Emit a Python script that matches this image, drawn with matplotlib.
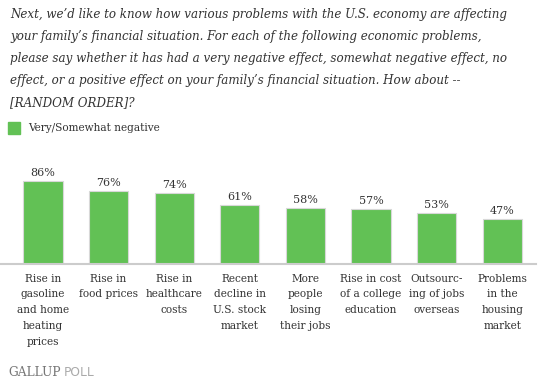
import matplotlib
matplotlib.use("Agg")
from matplotlib import pyplot as plt

# 数据
categories = ["Rise in\ngasoline\nand home\nheating\nprices",
              "Rise in\nfood prices",
              "Rise in\nhealthcare\ncosts",
              "Recent\ndecline in\nU.S. stock\nmarket",
              "More\npeople\nlosing\ntheir jobs",
              "Rise in cost\nof a college\neducation",
              "Outsourc-\ning of jobs\noverseas",
              "Problems\nin the\nhousing\nmarket"]
values = [86, 76, 74, 61, 58, 57, 53, 47]
series_name = "Very/Somewhat negative"

title = ("Next, we\u2019d like to know how various problems with the U.S. economy are affecting\n"
         "your family\u2019s financial situation. For each of the following economic problems,\n"
         "please say whether it has had a very negative effect, somewhat negative effect, no\n"
         "effect, or a positive effect on your family\u2019s financial situation. How about --\n"
         "[RANDOM ORDER]?")

green = "#62c155"
serif = "DejaVu Serif"

W, H = 542, 384
fig = plt.figure(figsize=(W / 100, H / 100), dpi=100)

# 标题
fig.text(10 / W, 1 - 8 / H, title, family=serif, style="italic", fontsize=8.6,
         color="#333333", va="top", ha="left", linespacing=1.9)

# 图例
fig.patches.append(plt.Rectangle((8 / W, 1 - 134 / H), 12 / W, 12 / H,
                                 transform=fig.transFigure, color=green))
fig.text(28 / W, 1 - 128 / H, series_name, family=serif, fontsize=7.6,
         color="#333333", va="center", ha="left")

# 柱状图
ax = fig.add_axes([0, (H - 264) / H, 536 / W, 96.5 / H])
x = range(len(values))
ax.bar(x, values, width=0.6, color=green, edgecolor="#d8d8d8", linewidth=0.8)
for i, v in enumerate(values):
    ax.text(i, v + 3, f"{v}%", ha="center", va="bottom", family=serif,
            fontsize=8, color="#333333")
ax.set_xlim(-43 / 65.6, (536 - 43) / 65.6)
ax.set_ylim(0, 100)
ax.set_xticks(list(x))
ax.set_xticklabels(categories, family=serif, fontsize=7.6, color="#333333",
                   linespacing=1.72, va="top")
ax.tick_params(axis="x", length=0, pad=7)
ax.set_yticks([])
for s in ["top", "right", "left"]:
    ax.spines[s].set_visible(False)
ax.spines["bottom"].set_color("#cccccc")
ax.spines["bottom"].set_linewidth(1.5)

# Gallup 标志
t1 = fig.text(8 / W, 1 - 372 / H, "GALLUP", family=serif, fontsize=8.8,
              color="#777777", va="center", ha="left")
fig.canvas.draw()
bb = t1.get_window_extent()
fig.text((bb.x1 + 3) / W, 1 - 372 / H, "POLL", family="DejaVu Sans",
         fontsize=8.8, color="#aaaaaa", va="center", ha="left")

fig.savefig("out.png", dpi=100)
